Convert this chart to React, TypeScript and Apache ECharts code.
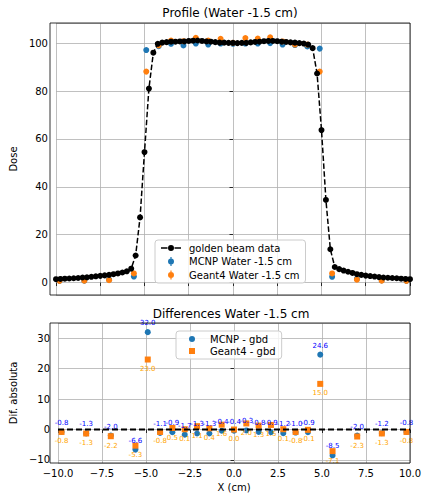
import { useEffect, useRef } from 'react';
import * as echarts from 'echarts';

// golden beam data (dense profile)
const gbdX = [
  -10, -9.75, -9.5, -9.25, -9, -8.75, -8.5, -8.25, -8, -7.75, -7.5, -7.25, -7, -6.75, -6.5, -6.25, -6, -5.75,
  -5.5, -5.25, -5, -4.75, -4.5, -4.25,
  -4, -3.75, -3.5, -3.25, -3, -2.75, -2.5, -2.25, -2, -1.75, -1.5, -1.25, -1, -0.75, -0.5, -0.25, 0,
  0.25, 0.5, 0.75, 1, 1.25, 1.5, 1.75, 2, 2.25, 2.5, 2.75, 3, 3.25, 3.5, 3.75, 4,
  4.25, 4.5, 4.75, 5, 5.25, 5.5,
  5.75, 6, 6.25, 6.5, 6.75, 7, 7.25, 7.5, 7.75, 8, 8.25, 8.5, 8.75, 9, 9.25, 9.5, 9.75, 10,
];
const gbdDose = [
  1.4, 1.5, 1.6, 1.7, 1.8, 1.9, 2.1, 2.2, 2.4, 2.6, 2.8, 3.0, 3.2, 3.5, 3.8, 4.2, 4.7, 5.8,
  11.3, 27.2, 54.5, 81.0, 96.0, 99.7,
  100.2, 100.4, 100.6, 100.6, 100.7, 100.7, 100.9, 101.0, 101.1, 100.9, 100.7, 100.6, 100.4, 100.2, 100.2, 100.1, 100.1,
  100.0, 100.1, 100.1, 100.3, 100.5, 100.6, 100.8, 100.9, 100.9, 100.8, 100.6, 100.5, 100.3, 100.2, 100.0, 99.8,
  99.4, 97.9, 87.3, 63.7, 34.5, 13.9,
  6.5, 5.6, 5.0, 4.5, 4.0, 3.5, 3.2, 2.9, 2.7, 2.5, 2.3, 2.1, 2.0, 1.9, 1.8, 1.6, 1.5, 1.4,
];

// simulation points
const simX = [-9.8, -8.4, -7.0, -5.6, -4.9, -4.2, -3.5, -2.8, -2.1, -1.4, -0.7, 0, 0.7, 1.4, 2.1, 2.8, 3.5, 4.2, 4.9, 5.6, 7.0, 8.4, 9.8];
const mcnpDose = [0.7, 0.8, 1.2, 2.5, 97.1, 98.7, 99.7, 99.0, 99.8, 99.4, 99.8, 99.7, 99.8, 99.8, 100.0, 99.4, 99.2, 98.6, 97.7, 2.4, 1.5, 0.9, 0.7];
const geantDose = [0.7, 0.8, 1.0, 3.8, 88.1, 99.0, 101.1, 100.8, 102.2, 101.1, 101.8, 100.1, 102.1, 101.9, 102.4, 100.7, 99.4, 99.4, 88.1, 3.8, 1.2, 0.8, 0.7];

// differences vs golden beam data
const mcnpDiff = [-0.8, -1.3, -2.0, -6.6, 32.0, -1.1, -0.9, -1.7, -1.3, -1.3, -0.4, -0.4, -0.3, -0.8, -0.9, -1.2, -1.0, -0.9, 24.6, -8.5, -2.0, -1.2, -0.8];
const geantDiff = [-0.8, -1.3, -2.2, -5.3, 23.0, -0.8, 0.5, 0.1, 1.1, 0.4, 1.6, 0.0, 2.0, 1.3, 1.5, 0.1, -0.8, -0.1, 15.0, -7.1, -2.3, -1.3, -0.8];

const zeroLineX = [-10, 10];
const zeroLineY = [0, 0];

const FONT = 'DejaVu Sans';
const TOP = { left: 50, top: 23, width: 360, height: 272 };
const BOT = { left: 50, top: 323, width: 360, height: 140 };

const fmt = (v: number, d: number) => v.toFixed(d).replace('-', '\u2212');

const CIRCLE = 'M13,5A3,3,0,1,1,7,5A3,3,0,1,1,13,5z';
const iconGbd = 'path://M0,0M23,10M0,4.25h6.5v1.5h-6.5zM13.5,4.25h6.5v1.5h-6.5z' + CIRCLE;
const iconErr = 'path://M0,0M23,10M9.4,0.5h1.2v9h-1.2z' + CIRCLE;
const iconCircle = 'path://M0,0M23,10' + CIRCLE;
const iconSquare = 'path://M0,0M23,10M7,2h6v6h-6z';

export default function App() {
  const ref = useRef<HTMLDivElement>(null);
  useEffect(() => {
    if (!ref.current) return;
    document.body.style.margin = '0';
    const chart = echarts.init(ref.current, undefined, { renderer: 'svg' });

    const axisBase = {
      type: 'value',
      axisLine: { show: false },
      axisTick: { show: true, inside: false, length: 3.5, lineStyle: { color: '#000', width: 0.8 } },
      splitLine: { show: true, lineStyle: { color: '#b0b0b0', width: 0.8 } },
    };
    const labelBase = { color: '#000', fontSize: 10, fontFamily: FONT };
    const legendBase = {
      orient: 'vertical',
      backgroundColor: 'rgba(255,255,255,0.8)',
      borderColor: '#cccccc',
      borderWidth: 1,
      borderRadius: 3,
      padding: [3, 6],
      itemWidth: 23,
      itemHeight: 10,
      selectedMode: false,
      textStyle: { fontSize: 10, fontFamily: FONT, color: '#000' },
    };

    chart.setOption({
      animation: false,
      textStyle: { fontFamily: FONT },
      grid: [
        { ...TOP, containLabel: false },
        { ...BOT, containLabel: false },
      ],
      xAxis: [
        { ...axisBase, gridIndex: 0, min: -10, max: 10, interval: 2.5, axisLabel: { show: false } },
        {
          ...axisBase, gridIndex: 1, min: -10, max: 10, interval: 2.5,
          axisLabel: { ...labelBase, margin: 5, formatter: (v: number) => fmt(v, 1) },
          name: 'X (cm)', nameLocation: 'middle', nameGap: 19,
          nameTextStyle: { ...labelBase },
        },
      ],
      yAxis: [
        {
          ...axisBase, gridIndex: 0, min: -5.2, max: 108.4, splitNumber: 5,
          axisLabel: { ...labelBase, margin: 8, showMinLabel: false, showMaxLabel: false, formatter: (v: number) => fmt(v, 0) },
          name: 'Dose', nameLocation: 'middle', nameGap: 31, nameRotate: 90,
          nameTextStyle: { ...labelBase },
        },
        {
          ...axisBase, gridIndex: 1, min: -11, max: 35, splitNumber: 5,
          axisLabel: { ...labelBase, margin: 8, showMinLabel: false, showMaxLabel: false, formatter: (v: number) => fmt(v, 0) },
          name: 'Dif. absoluta', nameLocation: 'middle', nameGap: 34, nameRotate: 90,
          nameTextStyle: { ...labelBase },
        },
      ],
      legend: [
        {
          ...legendBase, left: 155, top: 240, itemGap: 3.5,
          data: [
            { name: 'golden beam data', icon: iconGbd },
            { name: 'MCNP Water -1.5 cm', icon: iconErr },
            { name: 'Geant4 Water -1.5 cm', icon: iconErr },
          ],
        },
        {
          ...legendBase, left: 176, top: 331, itemGap: 2,
          data: [
            { name: 'MCNP - gbd', icon: iconCircle },
            { name: 'Geant4 - gbd', icon: iconSquare },
          ],
        },
      ],
      graphic: [
        { type: 'text', x: TOP.left + TOP.width / 2, y: 13, z: 100,
          style: { text: 'Profile (Water -1.5 cm)', fontSize: 12, fontFamily: FONT, fill: '#000', textAlign: 'center', textVerticalAlign: 'middle' } },
        { type: 'text', x: BOT.left + BOT.width / 2 + 1, y: 314, z: 100,
          style: { text: 'Differences Water -1.5 cm', fontSize: 12, fontFamily: FONT, fill: '#000', textAlign: 'center', textVerticalAlign: 'middle' } },
        { type: 'rect', z: 100, silent: true, shape: { x: TOP.left, y: TOP.top, width: TOP.width, height: TOP.height },
          style: { fill: 'none', stroke: '#000', lineWidth: 0.8 } },
        { type: 'rect', z: 100, silent: true, shape: { x: BOT.left, y: BOT.top, width: BOT.width, height: BOT.height },
          style: { fill: 'none', stroke: '#000', lineWidth: 0.8 } },
      ],
      series: [
        {
          name: 'golden beam data', type: 'line', xAxisIndex: 0, yAxisIndex: 0,
          data: gbdX.map((x, i) => [x, gbdDose[i]]),
          symbol: 'circle', symbolSize: 6, showAllSymbol: true,
          itemStyle: { color: '#000' },
          lineStyle: { color: '#000', width: 1.5, type: [5.5, 2.4] },
          emphasis: { disabled: true },
        },
        {
          name: 'MCNP Water -1.5 cm', type: 'scatter', xAxisIndex: 0, yAxisIndex: 0,
          data: simX.map((x, i) => [x, mcnpDose[i]]),
          symbolSize: 6, itemStyle: { color: '#1f77b4', opacity: 1 },
          emphasis: { disabled: true },
        },
        {
          name: 'Geant4 Water -1.5 cm', type: 'scatter', xAxisIndex: 0, yAxisIndex: 0,
          data: simX.map((x, i) => [x, geantDose[i]]),
          symbolSize: 6, itemStyle: { color: '#ff7f0e', opacity: 1 },
          emphasis: { disabled: true },
        },
        {
          name: 'MCNP - gbd', type: 'scatter', xAxisIndex: 1, yAxisIndex: 1,
          data: simX.map((x, i) => [x, mcnpDiff[i]]),
          symbolSize: 6, itemStyle: { color: '#1f77b4', opacity: 1 },
          label: {
            show: true, position: 'top', distance: 2.5, color: '#0000ff', fontSize: 7, fontFamily: FONT,
            formatter: (p: { value: number[] }) => p.value[1].toFixed(1),
          },
          emphasis: { disabled: true },
        },
        {
          name: 'Geant4 - gbd', type: 'scatter', xAxisIndex: 1, yAxisIndex: 1,
          data: simX.map((x, i) => [x, geantDiff[i]]),
          symbol: 'rect', symbolSize: 6, itemStyle: { color: '#ff7f0e', opacity: 1 },
          label: {
            show: true, position: 'bottom', distance: 3, color: '#ffa500', fontSize: 7, fontFamily: FONT,
            formatter: (p: { value: number[] }) => p.value[1].toFixed(1),
          },
          emphasis: { disabled: true },
        },
        {
          name: 'zero', type: 'line', xAxisIndex: 1, yAxisIndex: 1,
          data: zeroLineX.map((x, i) => [x, zeroLineY[i]]),
          symbol: 'none', silent: true,
          lineStyle: { color: '#000', width: 2, type: [6, 3] },
          emphasis: { disabled: true },
        },
      ],
    });

    return () => chart.dispose();
  }, []);
  return <div ref={ref} style={{ width: 427, height: 500 }} />;
}
